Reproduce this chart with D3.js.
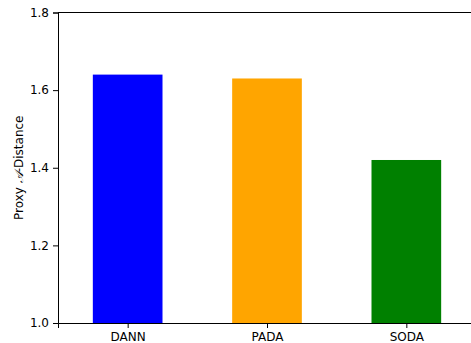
<!DOCTYPE html>
<html lang="en">
<head>
<meta charset="UTF-8">
<title>Proxy A-Distance</title>
<script src="https://d3js.org/d3.v7.min.js"></script>
<style>
  body { margin: 0; background: #fff; }
  text { font-family: "DejaVu Sans", sans-serif; }
</style>
</head>
<body>
<script>
var methods = ["DANN", "PADA", "SODA"];
var distances = [1.64, 1.63, 1.42];
var barColors = ["#0000ff", "#ffa500", "#008000"];
var yTicks = [1.0, 1.2, 1.4, 1.6, 1.8];

var width = 471, height = 343;
var margin = { top: 12.5, left: 58, bottom: 20 };
var plotRight = 476; // right spine falls outside the picture

var svg = d3.select("body").append("svg")
    .attr("width", width)
    .attr("height", height);

// x: xlim -0.5 .. 2.5, bar width 0.5
var xScale = d3.scaleLinear()
    .domain([-0.5, methods.length - 0.5])
    .range([margin.left, plotRight]);

var yScale = d3.scaleLinear()
    .domain([1.0, 1.8])
    .range([323, margin.top]);

svg.selectAll("rect.bar")
    .data(methods)
    .enter()
    .append("rect")
    .attr("class", "bar")
    .attr("x", (d, i) => xScale(i - 0.25))
    .attr("width", (d, i) => xScale(i + 0.25) - xScale(i - 0.25))
    .attr("y", (d, i) => yScale(distances[i]))
    .attr("height", (d, i) => yScale(1.0) - yScale(distances[i]))
    .attr("fill", (d, i) => barColors[i]);

var xAxis = d3.axisBottom(xScale)
    .tickValues(d3.range(methods.length))
    .tickFormat(i => methods[i])
    .tickSizeOuter(0)
    .tickSize(5)
    .tickPadding(4);

var gx = svg.append("g")
    .attr("transform", "translate(0," + yScale(1.0) + ")")
    .call(xAxis);

var yAxis = d3.axisLeft(yScale)
    .tickValues(yTicks)
    .tickFormat(d3.format(".1f"))
    .tickSizeOuter(0)
    .tickSize(5)
    .tickPadding(4);

var gy = svg.append("g")
    .attr("transform", "translate(" + margin.left + ",0)")
    .call(yAxis);

[gx, gy].forEach(function (g) {
    g.selectAll("text").attr("font-size", 12).attr("fill", "#000")
        .attr("font-family", "DejaVu Sans, sans-serif");
    g.selectAll("line").attr("stroke", "#000").attr("stroke-width", 1);
    g.select(".domain").attr("stroke", "#000").attr("stroke-width", 1);
});

// top spine
svg.append("line")
    .attr("x1", margin.left).attr("x2", plotRight)
    .attr("y1", yScale(1.8)).attr("y2", yScale(1.8))
    .attr("stroke", "#000").attr("stroke-width", 1);

// y label
var ylab = svg.append("text")
    .attr("transform", "translate(23," + yScale(1.4) + ") rotate(-90)")
    .attr("text-anchor", "middle")
    .attr("font-size", 12)
    .attr("fill", "#000");
ylab.append("tspan").text("Proxy ");
ylab.append("tspan").attr("font-style", "italic").text("\uD835\uDC9C");
ylab.append("tspan").text("-Distance");
</script>
</body>
</html>
